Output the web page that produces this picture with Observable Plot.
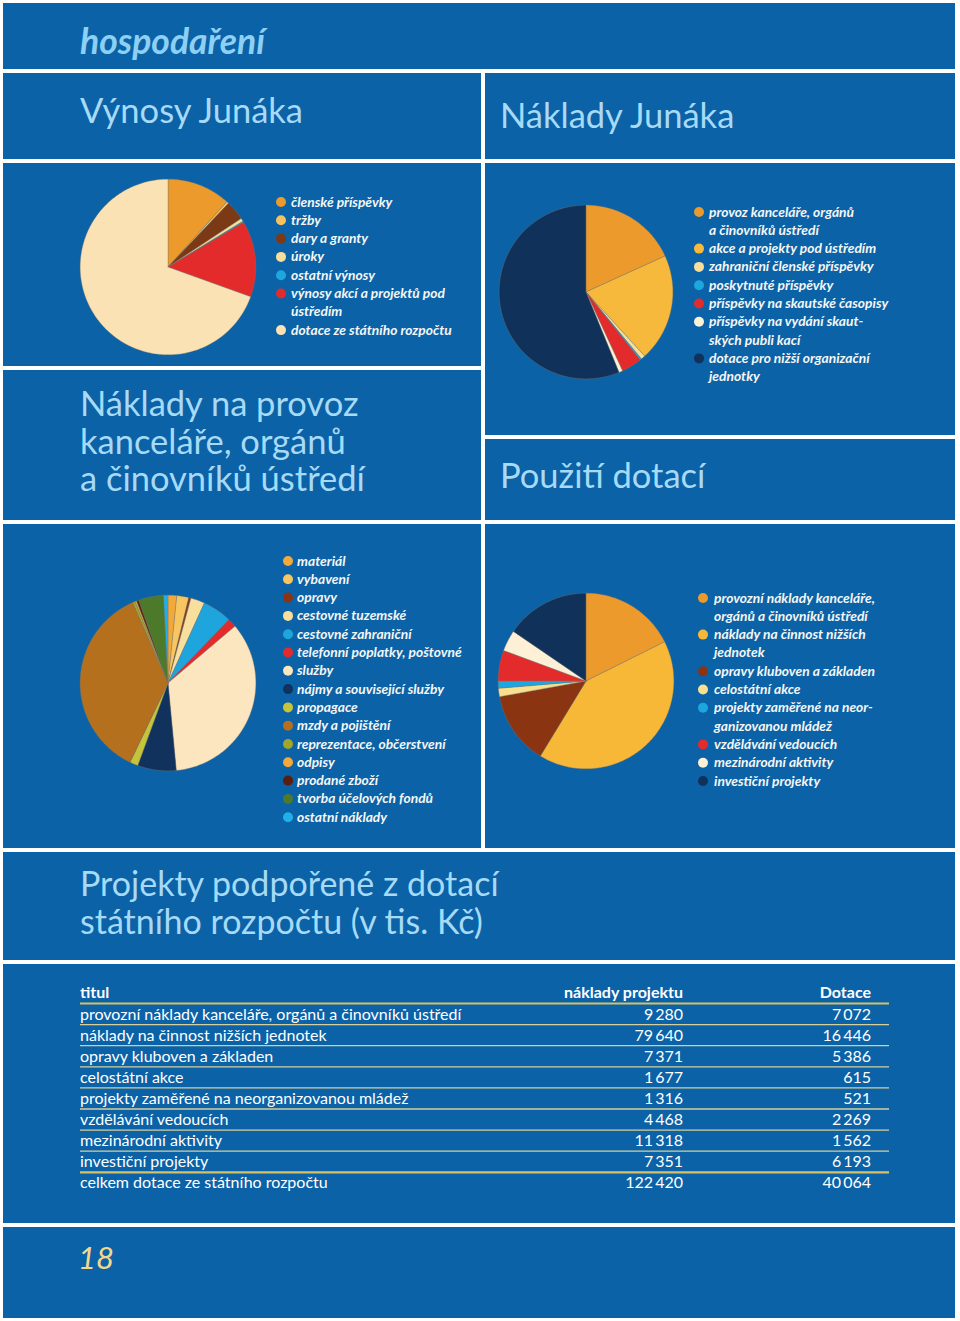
<!DOCTYPE html>
<html lang="cs"><head><meta charset="utf-8">
<script src="https://cdn.jsdelivr.net/npm/d3@7"></script>
<script src="https://cdn.jsdelivr.net/npm/@observablehq/plot@0.6"></script>
<style>
html,body{margin:0;padding:0;background:#fff;}
#page{position:relative;width:960px;height:1321px;overflow:hidden;background:#fff;font-family:Lato,"Open Sans",sans-serif;}
.panel{position:absolute;background:#0b62a7;}
.pie{position:absolute;}
#overlay{position:absolute;left:0;top:0;}
</style></head><body><div id="page"></div>
<script>
// ---------------- DATA ----------------
// Výnosy Junáka (share, %)
const vynosyLabels = ["členské příspěvky","tržby","dary a granty","úroky","ostatní výnosy","výnosy akcí a projektů pod\nústředím","dotace ze státního rozpočtu"];
const vynosyValues = [11.7, 0.4, 3.6, 0.6, 0.2, 14.0, 69.5];
const vynosyColors = ["#ec9a2c","#f6c25e","#7b3916","#f6df9a","#1ea6df","#e42b2b","#fbe2b4"];

// Náklady Junáka (share, %)
const nakladyLabels = ["provoz kanceláře, orgánů\na činovníků ústředí","akce a projekty pod ústředím","zahraniční členské příspěvky","poskytnuté příspěvky","příspěvky na skautské časopisy","příspěvky na vydání skaut-\nských publi kací","dotace pro nižší organizační\njednotky"];
const nakladyValues = [18.2, 20.0, 0.8, 0.3, 3.8, 0.7, 56.2];
const nakladyColors = ["#ec9a2c","#f7b93c","#f6df9a","#1ea6df","#e42b2b","#fdf1d8","#10315a"];

// Náklady na provoz kanceláře, orgánů a činovníků ústředí (share, %)
const provozLabels = ["materiál","vybavení","opravy","cestovné tuzemské"," cestovné zahraniční","telefonní poplatky, poštovné","služby","nájmy a související služby","propagace","mzdy a pojištění","reprezentace, občerstvení","odpisy","prodané zboží","tvorba účelových fondů","ostatní náklady"];
const provozValues = [1.6, 2.2, 0.4, 2.6, 5.4, 1.6, 34.7, 7.1, 1.5, 36.3, 0.5, 0.3, 0.4, 4.6, 0.8];
const provozColors = ["#f2a93a","#f7c660","#8a3412","#f8df9e","#1fa5de","#e42b2b","#fce6bf","#10325c","#c6c43a","#b5701e","#a3a528","#f0a93a","#5a1e0e","#4d7a2a","#1fb0ea"];

// Projekty podpořené z dotací státního rozpočtu (v tis. Kč)
const projektyTitles = ["provozní náklady kanceláře, orgánů a činovníků ústředí","náklady na činnost nižších jednotek","opravy kluboven a základen","celostátní akce","projekty zaměřené na neorganizovanou mládež","vzdělávání vedoucích","mezinárodní aktivity","investiční projekty"];
const projektyNaklady = [9280, 79640, 7371, 1677, 1316, 4468, 11318, 7351];
const projektyDotace = [7072, 16446, 5386, 615, 521, 2269, 1562, 6193];
const celkemNaklady = 122420;
const celkemDotace = 40064;
const tableHeader = ["titul","náklady projektu","Dotace"];
const celkemLabel = "celkem dotace ze státního rozpočtu";

// Použití dotací (same as Dotace column)
const pouzitiLabels = ["provozní náklady kanceláře,\norgánů a činovníků ústředí","náklady na činnost nižších\njednotek","opravy kluboven a základen","celostátní akce","projekty zaměřené na neor-\nganizovanou mládež","vzdělávání vedoucích","mezinárodní aktivity","investiční projekty"];
const pouzitiColors = ["#ec9a2c","#f7b837","#8a3412","#f8e08e","#1ea6df","#e42b2b","#fdf0d6","#10315a"];

// ---------------- LAYOUT ----------------
const page = document.getElementById("page");
const panels = [
  [3,3,955,69],[3,73,481,159],[485,73,955,159],
  [3,163,481,366],[3,370,481,520],[485,163,955,435],[485,439,955,520],
  [3,524,481,848],[485,524,955,848],
  [3,852,955,960],[3,964,955,1223],[3,1227,955,1318]
];
panels.forEach(([x0,y0,x1,y1]) => {
  const d = document.createElement("div");
  d.className = "panel";
  Object.assign(d.style, {left:x0+"px", top:y0+"px", width:(x1-x0)+"px", height:(y1-y0)+"px"});
  page.appendChild(d);
});

const svg = d3.create("svg").attr("id","overlay").attr("width",960).attr("height",1321)
  .style("font-family","Lato, 'Open Sans', sans-serif");
page.appendChild(svg.node());

// text helper: lines is a string or an array of lines (rendered as one <text> with tspans)
function txt(x, y, lines, o = {}) {
  const arr = Array.isArray(lines) ? lines : [lines];
  const t = svg.append("text").attr("x", x).attr("y", y)
    .attr("font-size", o.size || 32).attr("font-weight", o.weight || 400)
    .attr("font-style", o.style || "normal").attr("fill", o.fill || "#a6daf6")
    .attr("text-anchor", o.anchor || "start");
  arr.forEach((s, i) => t.append("tspan").attr("x", x).attr("dy", i === 0 ? 0 : (o.lh || 18)).text(s));
  return t;
}
const titleC = "#a6daf6";
const tS = 34.5;
txt(80, 54, "hospodaření", {size:35.5, weight:700, style:"italic", fill:"#8dd0f3"});
txt(80, 123, "Výnosy Junáka", {size:tS, fill:titleC});
txt(500, 128, "Náklady Junáka", {size:tS, fill:titleC});
txt(80, 416, ["Náklady na provoz","kanceláře, orgánů","a činovníků ústředí"], {size:tS, fill:titleC, lh:37.5});
txt(500, 488, "Použití dotací", {size:tS, fill:titleC});
txt(80, 896, ["Projekty podpořené z dotací","státního rozpočtu (v tis. Kč)"], {size:34, fill:titleC, lh:38});
txt(78, 1269, "18", {size:31, style:"italic", fill:"#f3d88c"});

// legends
function legend(labels, colors, dotX, textX, y0) {
  let y = y0;
  const lh = 18.3;
  labels.forEach((lab, i) => {
    svg.append("circle").attr("cx", dotX).attr("cy", y).attr("r", 5).attr("fill", colors[i]);
    const lines = lab.split("\n");
    txt(textX, y + 4.5, lines, {size:13.8, weight:700, style:"italic", fill:"#f5f6f4", lh});
    y += lh * lines.length;
  });
}
legend(vynosyLabels, vynosyColors, 281, 291, 202);
legend(nakladyLabels, nakladyColors, 699, 709, 212);
legend(provozLabels, provozColors, 288, 297, 561);
legend(pouzitiLabels, pouzitiColors, 703, 714, 598);

// table
const tL = 80, tR = 889, c2 = 683, c3 = 871;
const fmt = (v) => d3.format(",")(v).replace(/,/g, "\u2009");
const fS = 16;
txt(tL, 998, tableHeader[0], {size:fS, weight:700, fill:"#ffffff"});
txt(c2, 998, tableHeader[1], {size:fS, weight:700, fill:"#ffffff", anchor:"end"});
txt(c3, 998, tableHeader[2], {size:fS, weight:700, fill:"#ffffff", anchor:"end"});
const rowH = 21.1;
const rows = projektyTitles.map((t,i)=>[t, projektyNaklady[i], projektyDotace[i]]).concat([[celkemLabel, celkemNaklady, celkemDotace]]);
rows.forEach((r,i) => {
  const yb = 1019.5 + i*rowH;
  txt(tL, yb, r[0], {size:fS, fill:"#ffffff"});
  txt(c2, yb, fmt(r[1]), {size:fS, fill:"#ffffff", anchor:"end"});
  txt(c3, yb, fmt(r[2]), {size:fS, fill:"#ffffff", anchor:"end"});
});
for (let k = 0; k <= 8; k++) {
  const y = 1003.5 + k*rowH;
  const thick = (k === 0 || k === 8);
  svg.append("line").attr("x1", tL).attr("x2", tR).attr("y1", y).attr("y2", y)
    .attr("stroke", thick ? "#d8c064" : "#d6cf9c").attr("stroke-width", thick ? 2.2 : 1.3);
}

// ---------------- PIES (Observable Plot) ----------------
function pie(labels, values, colors, cx, cy, r) {
  const arcs = d3.pie().sort(null).value(d => d)(values);
  const pts = [];
  arcs.forEach((a, i) => {
    const n = Math.max(2, Math.ceil((a.endAngle - a.startAngle) / (Math.PI / 180)));
    pts.push({k: labels[i], x: 0, y: 0});
    for (let j = 0; j <= n; j++) {
      const t = a.startAngle + (a.endAngle - a.startAngle) * j / n;
      pts.push({k: labels[i], x: Math.sin(t), y: Math.cos(t)});
    }
    pts.push({k: labels[i], x: 0, y: 0});
  });
  const pad = 1.03;
  const size = Math.round(2 * r * pad);
  const p = Plot.plot({
    width: size, height: size, margin: 0,
    x: {domain: [-pad, pad], axis: null},
    y: {domain: [-pad, pad], axis: null},
    color: {domain: labels, range: colors},
    style: {background: "transparent", overflow: "visible"},
    marks: [
      Plot.line(pts, {x: "x", y: "y", z: "k", fill: "k", stroke: "#7d7565", strokeWidth: 0.5, strokeOpacity: 0.75, strokeLinejoin: "round"})
    ]
  });
  p.classList.add("pie");
  p.style.left = (cx - size / 2) + "px";
  p.style.top = (cy - size / 2) + "px";
  p.style.position = "absolute";
  page.appendChild(p);
}
pie(vynosyLabels, vynosyValues, vynosyColors, 167, 266, 88);
pie(nakladyLabels, nakladyValues, nakladyColors, 585, 291, 87);
pie(provozLabels, provozValues, provozColors, 167, 682, 88);
pie(pouzitiLabels, projektyDotace, pouzitiColors, 585, 680, 88);
</script>
</body></html>
